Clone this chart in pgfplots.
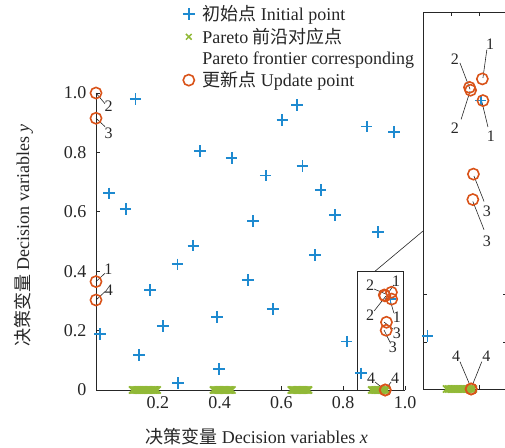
\documentclass[border=0pt]{standalone}
\usepackage{fontspec}
\usepackage{pgfplots}
\pgfplotsset{compat=1.18}
\setmainfont{Liberation Serif}
\newfontfamily\cjk{Noto Sans CJK SC}

\definecolor{initblue}{RGB}{30,138,208}
\definecolor{paretogreen}{RGB}{145,185,55}
\definecolor{updorange}{RGB}{217,83,25}
\definecolor{axisgray}{RGB}{38,38,38}

\pgfplotsset{
  initpt/.style={only marks, mark=+, mark size=5.8pt, mark options={draw=initblue, line width=1.8pt}},
  paretopt/.style={only marks, mark=x, mark size=5pt, mark options={draw=paretogreen, line width=1.7pt}},
  updatept/.style={only marks, mark=o, mark size=5.6pt, mark options={draw=updorange, line width=1.6pt, fill=none}},
}
\tikzset{
  numlabel/.style={font=\fontsize{16}{18}\selectfont, text=axisgray, inner sep=0pt},
  leader/.style={draw=axisgray, line width=0.6pt},
}

\begin{document}
\begin{tikzpicture}[x=1pt,y=1pt]
\path[use as bounding box] (0,0) rectangle (505,447);

% ---------------- main view ----------------
\begin{axis}[
  at={(96pt,57pt)}, anchor=south west,
  scale only axis, width=309pt, height=297pt,
  xmin=0, xmax=1, ymin=0, ymax=1,
  axis x line*=bottom, axis y line*=left,
  axis line style={axisgray, line width=0.7pt},
  tick align=inside, major tick length=4pt,
  tick style={axisgray, line width=0.7pt},
  xtick={0.2,0.4,0.6,0.8,1.0}, xticklabels={0.2,0.4,0.6,0.8,1.0},
  ytick={0,0.2,0.4,0.6,0.8,1.0}, yticklabels={0,0.2,0.4,0.6,0.8,1.0},
  tick label style={font=\fontsize{18}{20}\selectfont, text=axisgray},
  yticklabel style={xshift=-6pt},
  xticklabel style={yshift=-3pt},
  /pgf/number format/assume math mode=true,
  xlabel={{\cjk 决策变量} Decision variables \textit{x}},
  ylabel={{\cjk 决策变量} Decision variables \textit{y}},
  label style={font=\fontsize{18}{20}\selectfont, text=axisgray},
  xlabel style={at={(axis description cs:0.52,-0.158)}, anchor=center},
  ylabel style={at={(axis description cs:-0.235,0.52)}, anchor=center},
  clip=false,
  legend style={draw=none, fill=none, at={(axis cs:0.277,1.30)}, anchor=north west,
    font=\fontsize{18}{20}\selectfont, text=axisgray, row sep=3.2pt, inner sep=0pt,
    nodes={inner sep=1.5pt}},
  legend cell align=left,
  legend image code/.code={
    \path[draw=none] (0pt,0pt) -- (19pt,0pt);
    \path[#1, draw=none] plot[mark repeat=2, mark phase=2] coordinates {(0pt,0pt) (7pt,0pt) (14pt,0pt)};
  },
]
\addlegendimage{mark=+, mark size=5.8pt, mark options={draw=initblue, line width=1.8pt}}
\addlegendentry{{\cjk 初始点} Initial point}
\addlegendimage{mark=x, mark size=4pt, mark options={draw=paretogreen, line width=1.5pt}}
\addlegendentry{Pareto {\cjk 前沿对应点}}
\addlegendimage{empty legend}
\addlegendentry{Pareto frontier corresponding}
\addlegendimage{mark=o, mark size=5.6pt, mark options={draw=updorange, line width=1.6pt}}
\addlegendentry{{\cjk 更新点} Update point}

% initial points
\addplot[initpt, forget plot] coordinates {
  (0.128,0.980) (0.337,0.805) (0.439,0.782) (0.042,0.662) (0.096,0.609)
  (0.509,0.569) (0.650,0.960) (0.603,0.909) (0.876,0.887) (0.964,0.868)
  (0.668,0.754) (0.549,0.722) (0.727,0.673) (0.773,0.589) (0.912,0.531)
  (0.315,0.486) (0.264,0.423) (0.491,0.370) (0.175,0.337) (0.391,0.245)
  (0.216,0.215) (0.013,0.189) (0.139,0.118) (0.399,0.070) (0.266,0.023)
  (0.709,0.455) (0.572,0.273) (0.811,0.163) (0.858,0.056) (0.953,0.306)
};
% points on the Pareto set
\addplot[paretopt, forget plot] coordinates {
  (0.118,0) (0.122,0) (0.126,0) (0.130,0) (0.134,0) (0.138,0) (0.142,0)
  (0.146,0) (0.150,0) (0.154,0) (0.158,0) (0.162,0) (0.166,0) (0.170,0)
  (0.174,0) (0.178,0) (0.182,0) (0.186,0) (0.190,0) (0.194,0) (0.198,0)
  (0.380,0) (0.384,0) (0.388,0) (0.392,0) (0.396,0) (0.400,0) (0.404,0)
  (0.408,0) (0.412,0) (0.416,0) (0.420,0) (0.424,0) (0.428,0) (0.432,0)
  (0.436,0) (0.440,0)
  (0.632,0) (0.636,0) (0.640,0) (0.644,0) (0.648,0) (0.652,0) (0.656,0)
  (0.660,0) (0.664,0) (0.668,0) (0.672,0) (0.676,0) (0.680,0) (0.684,0)
  (0.688,0)
  (0.892,0) (0.896,0) (0.900,0) (0.904,0) (0.908,0) (0.912,0) (0.916,0)
  (0.920,0) (0.924,0) (0.928,0) (0.932,0) (0.936,0) (0.940,0)
};
% updated points
\addplot[updatept, forget plot] coordinates {
  (0,1.000) (0,0.915) (0,0.365) (0,0.303)
  (0.935,0.317) (0.933,0.320) (0.956,0.329) (0.957,0.306)
  (0.940,0.228) (0.939,0.201) (0.936,0) (0.936,0)
};

% point numbers at x = 0
\draw[leader] (axis cs:0,1.000) -- (axis cs:0.029,0.964);
\node[numlabel] at (axis cs:0.041,0.954) {2};
\draw[leader] (axis cs:0,0.915) -- (axis cs:0.029,0.887);
\node[numlabel] at (axis cs:0.041,0.866) {3};
\draw[leader] (axis cs:0,0.365) -- (axis cs:0.029,0.393);
\node[numlabel] at (axis cs:0.040,0.406) {1};
\draw[leader] (axis cs:0,0.303) -- (axis cs:0.029,0.331);
\node[numlabel] at (axis cs:0.042,0.337) {4};

% point numbers near the Pareto set
\draw[leader] (axis cs:0.900,0.340) -- (axis cs:0.938,0.323);
\node[numlabel] at (axis cs:0.887,0.354) {2};
\draw[leader] (axis cs:0.964,0.354) -- (axis cs:0.948,0.330);
\node[numlabel] at (axis cs:0.971,0.367) {1};
\draw[leader] (axis cs:0.900,0.266) -- (axis cs:0.938,0.316);
\node[numlabel] at (axis cs:0.887,0.253) {2};
\draw[leader] (axis cs:0.964,0.259) -- (axis cs:0.951,0.306);
\node[numlabel] at (axis cs:0.974,0.246) {1};
\draw[leader] (axis cs:0.961,0.205) -- (axis cs:0.932,0.229);
\node[numlabel] at (axis cs:0.974,0.192) {3};
\draw[leader] (axis cs:0.951,0.162) -- (axis cs:0.932,0.202);
\node[numlabel] at (axis cs:0.961,0.145) {3};
\draw[leader] (axis cs:0.903,0.027) -- (axis cs:0.935,0);
\node[numlabel] at (axis cs:0.890,0.040) {4};
\draw[leader] (axis cs:0.955,0.027) -- (axis cs:0.935,0);
\node[numlabel] at (axis cs:0.968,0.040) {4};

% zoom frame and its connector
\draw[axisgray, line width=0.7pt] (axis cs:0.845,0) rectangle (axis cs:0.994,0.40);
\draw[axisgray, line width=0.6pt] (axis cs:0.903,0.40) -- (axis cs:1.058,0.535);
\end{axis}

% ---------------- magnified view ----------------
\begin{axis}[
  at={(423pt,58pt)}, anchor=south west,
  scale only axis, width=84pt, height=377pt,
  xmin=0.85, xmax=1.0, ymin=0, ymax=0.4,
  axis line style={axisgray, line width=0.7pt},
  tick align=inside, major tick length=4pt,
  tick style={axisgray, line width=0.7pt},
  xtick={0.9,0.95}, ytick={0.05,0.1},
  xticklabels={}, yticklabels={},
  clip=false,
]
\addplot[initpt] coordinates {(0.858,0.056) (0.953,0.306)};
\addplot[paretopt] coordinates {
  (0.892,0) (0.895,0) (0.898,0) (0.901,0) (0.904,0) (0.907,0) (0.910,0)
  (0.913,0) (0.916,0) (0.919,0) (0.922,0) (0.925,0) (0.928,0) (0.931,0)
  (0.934,0) (0.937,0) (0.940,0)
};
\addplot[updatept] coordinates {
  (0.935,0.317) (0.933,0.320) (0.956,0.329) (0.957,0.306)
  (0.940,0.228) (0.939,0.201) (0.936,0) (0.936,0)
};
\draw[leader] (axis cs:0.964,0.360) -- (axis cs:0.957,0.330);
\node[numlabel] at (axis cs:0.970,0.366) {1};
\draw[leader] (axis cs:0.916,0.346) -- (axis cs:0.934,0.318);
\node[numlabel] at (axis cs:0.907,0.350) {2};
\draw[leader] (axis cs:0.918,0.286) -- (axis cs:0.934,0.316);
\node[numlabel] at (axis cs:0.907,0.277) {2};
\draw[leader] (axis cs:0.966,0.278) -- (axis cs:0.955,0.305);
\node[numlabel] at (axis cs:0.971,0.268) {1};
\draw[leader] (axis cs:0.959,0.199) -- (axis cs:0.941,0.226);
\node[numlabel] at (axis cs:0.964,0.189) {3};
\draw[leader] (axis cs:0.959,0.169) -- (axis cs:0.939,0.199);
\node[numlabel] at (axis cs:0.964,0.157) {3};
\draw[leader] (axis cs:0.916,0.029) -- (axis cs:0.936,0.001);
\node[numlabel] at (axis cs:0.909,0.035) {4};
\draw[leader] (axis cs:0.955,0.029) -- (axis cs:0.936,0.001);
\node[numlabel] at (axis cs:0.963,0.035) {4};
\end{axis}
\end{tikzpicture}
\end{document}
